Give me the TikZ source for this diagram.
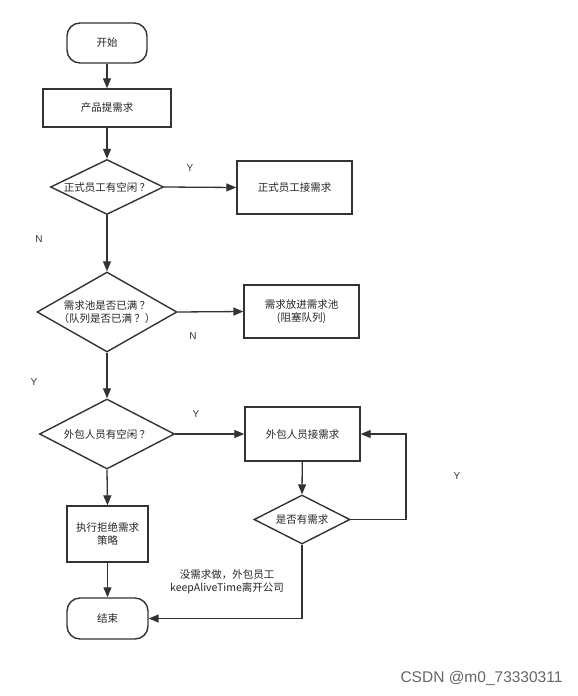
\documentclass[tikz,border=0pt]{standalone}
\usepackage{fontspec}
\setmainfont{Noto Sans CJK SC}
\newfontfamily\latinfont{Liberation Sans}
\usetikzlibrary{arrows.meta,shapes.geometric}
\begin{document}
\begin{tikzpicture}[x=1pt,y=-1pt,
 line/.style={draw=black!80, line width=1.3pt},
 arr/.style={line, -{Triangle[length=10pt,width=8pt]}},
 txt/.style={font=\fontsize{10.5}{12.5}\selectfont, text=black!85, align=center},
 box/.style={draw=black!80, line width=1.4pt, fill=white, txt, inner sep=0pt},
 term/.style={box, rounded corners=13pt},
 dia/.style={draw=black!80, line width=1.4pt, fill=white, diamond, inner sep=0pt},
 yn/.style={font=\latinfont\fontsize{10}{12}\selectfont, text=black!80},
]
\useasboundingbox (0,0) rectangle (578,696);
% nodes
\node[term, minimum width=80pt, minimum height=40pt] (start) at (107,43) {开始};
\node[box, minimum width=128pt, minimum height=38pt] (p1) at (107,108) {产品提需求};
\node[dia, minimum width=113pt, minimum height=55pt, label={[txt]center:正式员工有空闲 ？}] (d1) at (107,187) {};
\node[box, minimum width=115pt, minimum height=53pt] (r1) at (294.5,187.5) {正式员工接需求};
\node[dia, minimum width=140pt, minimum height=80pt, label={[txt]center:需求池是否已满 ？\\（队列是否已满 ？）}] (d2) at (107,312) {};
\node[box, minimum width=115pt, minimum height=53pt] (r2) at (301.5,311.5) {需求放进需求池\\(阻塞队列)};
\node[dia, minimum width=135pt, minimum height=70pt, label={[txt]center:外包人员有空闲 ？}] (d3) at (107,434) {};
\node[box, minimum width=115pt, minimum height=54pt] (r3) at (302.5,434) {外包人员接需求};
\node[box, minimum width=81pt, minimum height=56pt] (r4) at (107.5,534) {执行拒绝需求\\策略};
\node[dia, minimum width=96pt, minimum height=49pt, label={[txt]center:是否有需求}] (d4) at (302,519.5) {};
\node[term, minimum width=81pt, minimum height=41pt] (end) at (107.5,618.5) {结束};
\coordinate (loop) at (406,519.5);
% connectors
\draw[arr] (start) -- (p1);
\draw[arr] (p1) -- (d1);
\draw[arr] (d1.east) -- (r1.west);
\draw[arr] (d1.south) -- (d2.north);
\draw[arr] (d2.east) -- (r2.west);
\draw[arr] (d2.south) -- (d3.north);
\draw[arr] (d3.east) -- (r3.west);
\draw[arr] (d3.south) -- (r4.north);
\draw[arr] (r4) -- (end);
\draw[arr] (r3) -- (d4.north);
\draw[arr] (d4.east) -- (loop) |- (r3.east);
\draw[arr] (d4.south) |- (end.east);
% labels
\node[yn] (ly1) at (190,168) {Y};
\node[yn] (ln1) at (39,239) {N};
\node[yn] (ln2) at (193,336) {N};
\node[yn] (ly2) at (34,382) {Y};
\node[yn] (ly3) at (196,414) {Y};
\node[yn] (ly4) at (457,476) {Y};
\node[txt] (note) at (227,582) {没需求做，外包员工\\keepAliveTime离开公司};
\node[font=\latinfont\fontsize{15.5}{18}\selectfont, text=black!60, anchor=east] (wm) at (566,678) {CSDN @m0\_73330311};
\end{tikzpicture}
\end{document}
